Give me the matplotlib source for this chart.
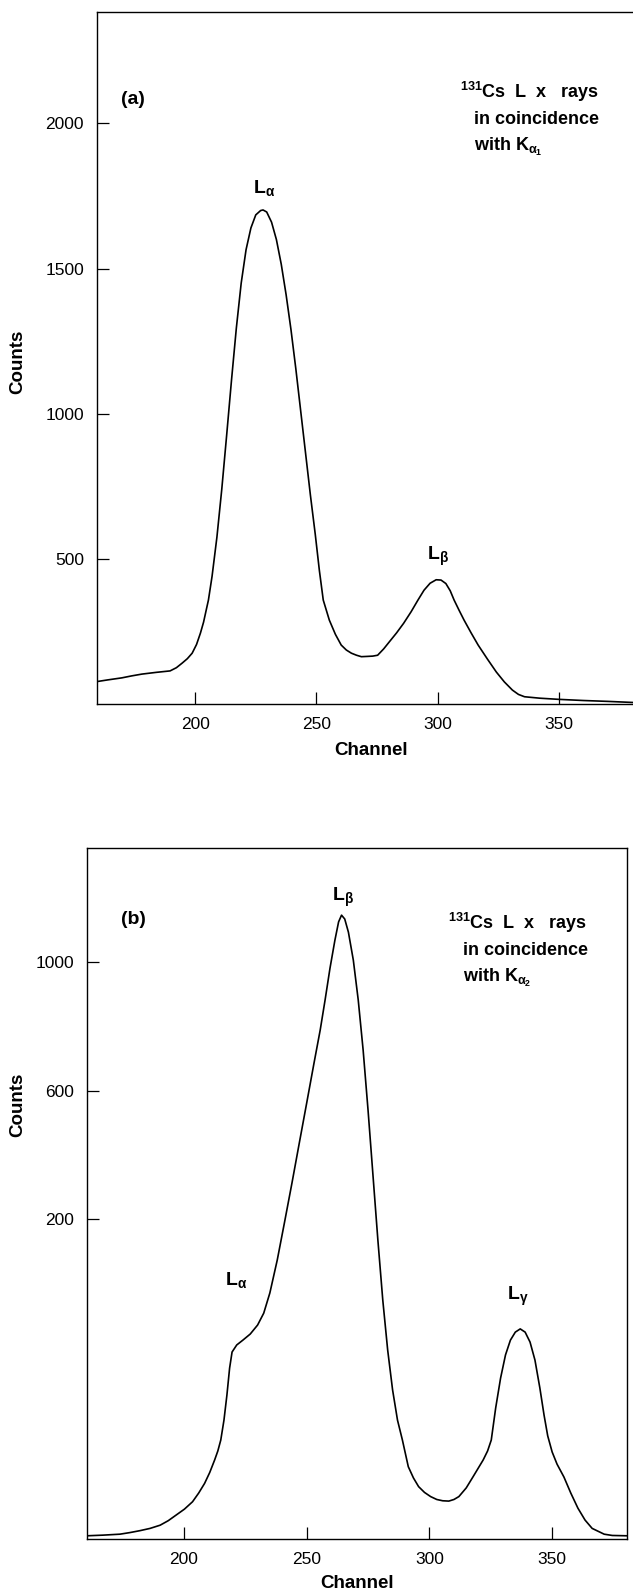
import matplotlib
matplotlib.use("Agg")
import matplotlib.pyplot as plt

plt.rcParams['font.family'] = ['Liberation Sans', 'DejaVu Sans']
plt.rcParams['mathtext.fontset'] = 'custom'
plt.rcParams['mathtext.rm'] = 'Liberation Sans:bold'
plt.rcParams['mathtext.it'] = 'Liberation Sans:bold'
plt.rcParams['mathtext.bf'] = 'Liberation Sans:bold'

# ---------------- data ----------------
channel_a = [159.4, 164, 169.8, 174, 178.1, 184, 189.7, 192.3, 194.7, 196.8, 198.8, 200.6,
             202.2, 203.5, 204.6, 205.5, 207, 209, 211, 213, 215, 217, 219, 221, 223, 225,
             227, 228, 229.5, 231.5, 233.5, 235.5, 237.5, 239.5, 241.5, 243.5, 245.5, 247.5,
             249.5, 251.2, 252.8, 255.3, 257.8, 260.2, 262.3, 264.4, 266.5, 268.5, 271,
             273.2, 275.2, 277.7, 280.1, 283, 285.9, 289, 291.8, 294.3, 296.8, 299.3, 301.3,
             303.3, 305.1, 306.7, 308.8, 310.8, 313.7, 316.6, 320.4, 324.1, 327.4, 330.7,
             333.2, 335.7, 342, 349.8, 360, 370, 381]
counts_a = [77, 83, 90, 97, 103, 109, 114, 125, 141, 156, 175, 205,
            244, 282, 324, 358, 440, 575, 740, 925, 1115, 1295, 1450, 1565, 1640, 1685,
            1700, 1702, 1695, 1660, 1600, 1515, 1410, 1290, 1155, 1010, 865, 720,
            585, 460, 358, 289, 240, 203, 186, 175, 168, 163, 164,
            165, 168, 190, 215, 245, 278, 318, 358, 392, 416, 428, 427,
            415, 390, 358, 322, 289, 245, 203, 155, 110, 76, 48,
            33, 25, 20, 16, 12, 9, 5]

channel_b = [160.5, 167, 173.9, 178, 182.1, 186.2, 190.3, 193.6, 196.9, 200.2, 203.5, 206,
             208.4, 210.5, 212.5, 213.8, 215, 216.3, 217.5, 218.6, 219.6, 221.5, 224, 227,
             230, 232.5, 235, 238, 241, 244, 247, 250, 253, 255.5, 257.5, 259.5, 261.5, 263,
             264.2, 265.5, 267, 269, 271, 273, 275, 277, 279, 281, 283, 285, 287, 289,
             291.4, 293.5, 295.6, 298, 300.5, 303, 305.4, 307.9, 310, 312, 315, 317.8,
             321.9, 323.7, 325.2, 327, 329, 331, 333, 335, 337, 339, 341, 343, 345, 346.7,
             348.2, 350, 352, 354.8, 357.6, 360.5, 363.4, 366.3, 371.2, 374.5, 380.5]
counts_b = [-786, -784, -781, -776, -770, -763, -753, -739, -721, -703, -680, -653,
            -623, -589, -550, -522, -488, -426, -348, -264, -214, -192, -177, -158,
            -130, -93, -30, 72, 191, 312, 437, 561, 686, 788, 882, 981, 1068, 1125,
            1146, 1134, 1093, 1006, 882, 726, 539, 337, 135, -52, -208, -332, -426, -488,
            -571, -606, -633, -651, -664, -673, -677, -678, -673, -664, -637, -602,
            -550, -522, -488, -388, -295, -223, -177, -152, -142, -152, -183, -239, -326, -410,
            -475, -525, -563, -603, -653, -700, -737, -763, -781, -785, -786]

xticks = [200, 250, 300, 350]
yticks_a = [500, 1000, 1500, 2000]
yticks_b = [200, 600, 1000]

# ---------------- layout ----------------
W, H = 633, 1591
fig = plt.figure(figsize=(W / 100, H / 100), dpi=100)


def rect(l, t, r, b):
    return [l / W, 1 - b / H, (r - l) / W, (b - t) / H]


def ftext(x, y, s, **kw):
    fig.text(x / W, 1 - y / H, s, **kw)


def style(ax):
    for side in ax.spines:
        ax.spines[side].set_linewidth(1.0)
    ax.tick_params(direction='in', length=8.6, width=0.9, labelsize=12.5,
                   pad=9, top=False, right=False)


bold = dict(fontweight='bold', va='center')

# panel (a)
ax1 = fig.add_axes(rect(96.5, 12, 634.5, 704))
ax1.plot(channel_a, counts_a, color='black', lw=1.2)
ax1.set_xlim(159.4, 381)
ax1.set_ylim(0, 2384)
ax1.set_xticks(xticks)
ax1.set_yticks(yticks_a)
style(ax1)

ftext(121, 100, '(a)', fontsize=14, ha='left', **bold)
ftext(460, 92, r'$^{131}$Cs  L  x   rays', fontsize=13, ha='left', **bold)
ftext(474, 120, 'in coincidence', fontsize=13, ha='left', **bold)
ftext(474, 147, r'with K$_{\alpha_1}$', fontsize=13, ha='left', **bold)
ftext(264, 188, r'L$_\alpha$', fontsize=14, ha='center', **bold)
ftext(438, 556, r'L$_\beta$', fontsize=14, ha='center', **bold)
ftext(371, 750, 'Channel', fontsize=13.5, ha='center', **bold)
ftext(18, 362, 'Counts', fontsize=13.5, ha='center', rotation=90, **bold)

# panel (b)
ax2 = fig.add_axes(rect(87, 848, 627, 1539))
ax2.plot(channel_b, counts_b, color='black', lw=1.2)
ax2.set_xlim(160.5, 380.5)
ax2.set_ylim(-796, 1355)
ax2.set_xticks(xticks)
ax2.set_yticks(yticks_b)
style(ax2)

ftext(121, 920, '(b)', fontsize=14, ha='left', **bold)
ftext(448, 923, r'$^{131}$Cs  L  x   rays', fontsize=13, ha='left', **bold)
ftext(463, 950, 'in coincidence', fontsize=13, ha='left', **bold)
ftext(463, 978, r'with K$_{\alpha_2}$', fontsize=13, ha='left', **bold)
ftext(343, 897, r'L$_\beta$', fontsize=14, ha='center', **bold)
ftext(236, 1280, r'L$_\alpha$', fontsize=14, ha='center', **bold)
ftext(518, 1296, r'L$_\gamma$', fontsize=14, ha='center', **bold)
ftext(357, 1583, 'Channel', fontsize=13.5, ha='center', **bold)
ftext(18, 1105, 'Counts', fontsize=13.5, ha='center', rotation=90, **bold)

fig.savefig('out.png', dpi=100)
